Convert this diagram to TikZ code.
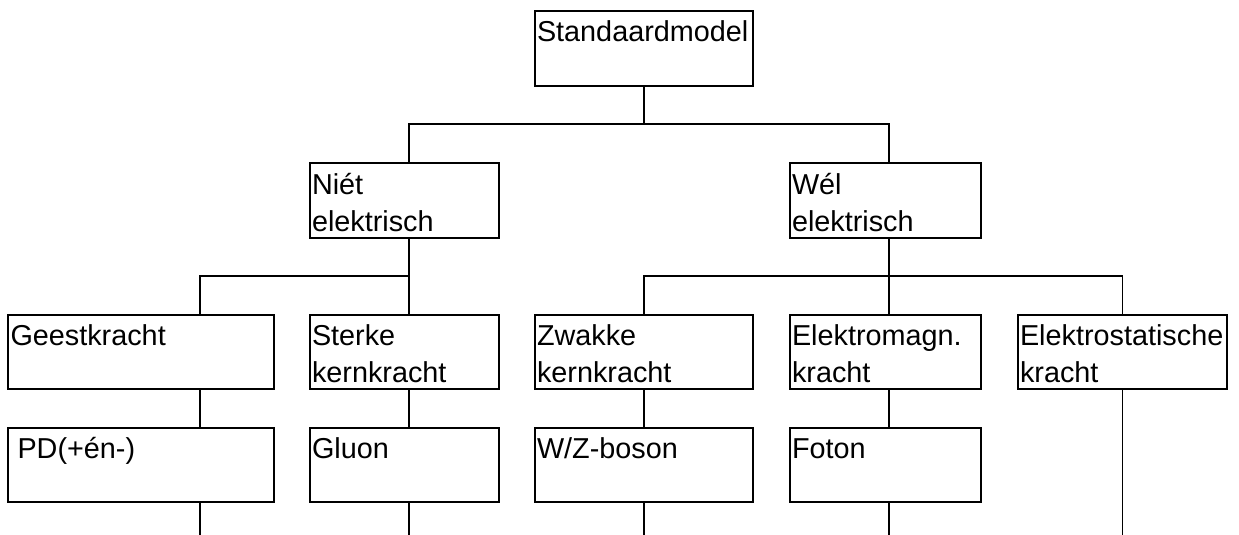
\documentclass[tikz,border=0pt]{standalone}
\usepackage{fontspec}
\setmainfont{Liberation Sans}
\begin{document}
\begin{tikzpicture}[x=1pt,y=-1pt,
  box/.style={draw, line width=1.5pt, anchor=north west, inner sep=0pt, outer sep=0pt},
  conn/.style={line width=1.5pt},
  txt/.style={anchor=base west, inner sep=0pt, outer sep=0pt, font=\fontsize{28.8pt}{37pt}\selectfont}]
\useasboundingbox (0,0) rectangle (1239,535);
% boxes
\node[box, minimum width=218pt, minimum height=75pt] (S) at (535,11) {};
\node[box, minimum width=189pt, minimum height=75pt] (N) at (310,163) {};
\node[box, minimum width=191pt, minimum height=75pt] (W) at (790,163) {};
\node[box, minimum width=266pt, minimum height=74pt] (G) at (8,315) {};
\node[box, minimum width=189pt, minimum height=74pt] (St) at (310,315) {};
\node[box, minimum width=218pt, minimum height=74pt] (Z) at (535,315) {};
\node[box, minimum width=191pt, minimum height=74pt] (E) at (790,315) {};
\node[box, minimum width=209pt, minimum height=74pt] (Es) at (1018,315) {};
\node[box, minimum width=266pt, minimum height=74pt] (P) at (8,428) {};
\node[box, minimum width=189pt, minimum height=74pt] (Gl) at (310,428) {};
\node[box, minimum width=218pt, minimum height=74pt] (WZ) at (535,428) {};
\node[box, minimum width=191pt, minimum height=74pt] (F) at (790,428) {};
% texts
\node[txt] (S-a) at ([shift={(2pt,-31pt)}]S.north west) {Standaardmodel};
\node[txt] (N-a) at ([shift={(2pt,-31pt)}]N.north west) {Niét};
\node[txt] (N-b) at ([shift={(2pt,-68pt)}]N.north west) {elektrisch};
\node[txt] (W-a) at ([shift={(2pt,-31pt)}]W.north west) {Wél};
\node[txt] (W-b) at ([shift={(2pt,-68pt)}]W.north west) {elektrisch};
\node[txt] (G-a) at ([shift={(2.5pt,-30.5pt)}]G.north west) {Geestkracht};
\node[txt] (St-a) at ([shift={(2pt,-30.5pt)}]St.north west) {Sterke};
\node[txt] (St-b) at ([shift={(2pt,-67.5pt)}]St.north west) {kernkracht};
\node[txt] (Z-a) at ([shift={(2pt,-30.5pt)}]Z.north west) {Zwakke};
\node[txt] (Z-b) at ([shift={(2pt,-67.5pt)}]Z.north west) {kernkracht};
\node[txt] (E-a) at ([shift={(2pt,-30.5pt)}]E.north west) {Elektromagn.};
\node[txt] (E-b) at ([shift={(2pt,-67.5pt)}]E.north west) {kracht};
\node[txt] (Es-a) at ([shift={(2pt,-30.5pt)}]Es.north west) {Elektrostatische};
\node[txt] (Es-b) at ([shift={(2pt,-67.5pt)}]Es.north west) {kracht};
\node[txt] (P-a) at ([shift={(9.5pt,-30.5pt)}]P.north west) {PD(+én-)};
\node[txt] (Gl-a) at ([shift={(2pt,-30.5pt)}]Gl.north west) {Gluon};
\node[txt] (WZ-a) at ([shift={(2pt,-30.5pt)}]WZ.north west) {W/Z-boson};
\node[txt] (F-a) at ([shift={(2pt,-30.5pt)}]F.north west) {Foton};
% junctions
\coordinate (j1) at (644,124);
\coordinate (jL) at (409,276);
\coordinate (jR) at (889,276);
\coordinate (bot) at (0,535);
% connectors
\draw[conn] (S.south) -- (j1);
\draw[conn] ([xshift=4.5pt]N.north) |- (j1) -| ([xshift=3.5pt]W.north);
\draw[conn] ([xshift=4.5pt]N.south) -- ([xshift=4.5pt]St.north);
\draw[conn] ([xshift=59pt]G.north) |- (jL);
\draw[conn] ([xshift=3.5pt]W.south) -- ([xshift=3.5pt]E.north);
\draw[conn] (Z.north) |- (jR) -| (Es.north);
\draw[conn] ([xshift=59pt]G.south) -- ([xshift=59pt]P.north);
\draw[conn] ([xshift=4.5pt]St.south) -- ([xshift=4.5pt]Gl.north);
\draw[conn] (Z.south) -- (WZ.north);
\draw[conn] ([xshift=3.5pt]E.south) -- ([xshift=3.5pt]F.north);
\draw[conn] ([xshift=59pt]P.south) -- ([xshift=59pt]P.south |- bot);
\draw[conn] ([xshift=4.5pt]Gl.south) -- ([xshift=4.5pt]Gl.south |- bot);
\draw[conn] (WZ.south) -- (WZ.south |- bot);
\draw[conn] ([xshift=3.5pt]F.south) -- ([xshift=3.5pt]F.south |- bot);
\draw[conn] (Es.south) -- (Es.south |- bot);
\end{tikzpicture}
\end{document}
